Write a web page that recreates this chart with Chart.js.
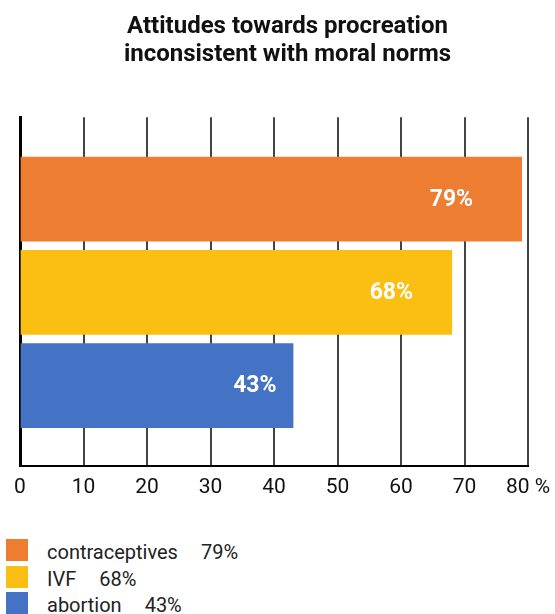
<!DOCTYPE html>
<html>
<head>
<meta charset="utf-8">
<script src="https://cdn.jsdelivr.net/npm/chart.js@4/dist/chart.umd.min.js"></script>
<style>
  body { margin: 0; background: #fff; font-family: Roboto, sans-serif; }
  #wrap { position: relative; width: 555px; height: 614px; }
  #box { position: absolute; left: 0; top: 0; width: 555px; height: 509px; }
  #legend { position: absolute; left: 6px; top: 537px; }
  .row { display: flex; align-items: center; height: 26.5px; }
  .sw { width: 22px; height: 22px; margin-right: 19px; }
  .row span { font-size: 20px; color: #222; position: relative; top: 2px; }
  .row .pct { margin-left: 23px; }
</style>
</head>
<body>
<div id="wrap">
  <div id="box"><canvas id="myChart"></canvas></div>
  <div id="legend"></div>
</div>
<script>
const categories = ["contraceptives", "IVF", "abortion"];
const shares = [79, 68, 43];
const barColors = ["#ED7D31", "#FBBF13", "#4472C4"];
const xTicks = [0, 10, 20, 30, 40, 50, 60, 70, 80];

// legend under the chart
const legend = document.getElementById("legend");
for (let i = 0; i < categories.length; i++) {
     const row = document.createElement("div");
     row.className = "row";
     row.innerHTML = `<div class="sw" style="background:${barColors[i]}"></div>` +
          `<span>${categories[i]}</span><span class="pct">${shares[i]}%</span>`;
     legend.appendChild(row);
}

// white percentage text inside each bar
const barText = {
     id: "barText",
     afterDatasetsDraw(chart) {
          const ctx = chart.ctx;
          const meta = chart.getDatasetMeta(0);
          const xs = chart.scales.x;
          ctx.save();
          ctx.fillStyle = "#fff";
          ctx.font = "bold 23px Roboto";
          ctx.textAlign = "center";
          ctx.textBaseline = "middle";
          meta.data.forEach((bar, i) => {
               ctx.fillText(shares[i] + "%", xs.getPixelForValue(shares[i] * 0.86), bar.y + 1);
          });
          ctx.restore();
     }
};

const data = {
     datasets: [{
          data: shares.map((v, i) => ({ x: v, y: i })),
          backgroundColor: barColors,
          borderWidth: 0,
          barThickness: 84
     }]
};

const config = {
     type: "bar",
     data: data,
     options: {
          indexAxis: "y",
          responsive: true,
          maintainAspectRatio: false,
          animation: false,
          layout: { padding: { left: 20, right: 0, top: 0, bottom: 0 } },
          plugins: {
               legend: { display: false },
               tooltip: { enabled: false },
               title: {
                    display: true,
                    text: ["Attitudes towards procreation", "inconsistent with moral norms"],
                    color: "#111",
                    font: { family: "Roboto", size: 24, weight: "bold", lineHeight: 1.17 },
                    padding: { top: 13, bottom: 48 }
               }
          },
          scales: {
               x: {
                    type: "linear",
                    min: 0,
                    max: 80,
                    afterBuildTicks: (axis) => { axis.ticks = xTicks.map(v => ({ value: v })); },
                    afterFit: (axis) => { axis.paddingRight = 27; },
                    grid: { color: "#444", lineWidth: 2, drawTicks: false },
                    border: { color: "#000", width: 2 },
                    ticks: {
                         color: "#111",
                         padding: 9,
                         maxRotation: 0,
                         font: { family: "Roboto", size: 21 },
                         callback: (v) => v === 80 ? "80 %" : v
                    }
               },
               y: {
                    type: "linear",
                    reverse: true,
                    offset: false,
                    bounds: "data",
                    afterDataLimits: (axis) => { axis.min = -0.88; axis.max = 2.86; },
                    grid: { display: false, drawTicks: false, offset: false },
                    border: { color: "#000", width: 3 },
                    ticks: { display: false }
               }
          }
     },
     plugins: [barText]
};

new Chart(document.getElementById("myChart"), config);
</script>
</body>
</html>
